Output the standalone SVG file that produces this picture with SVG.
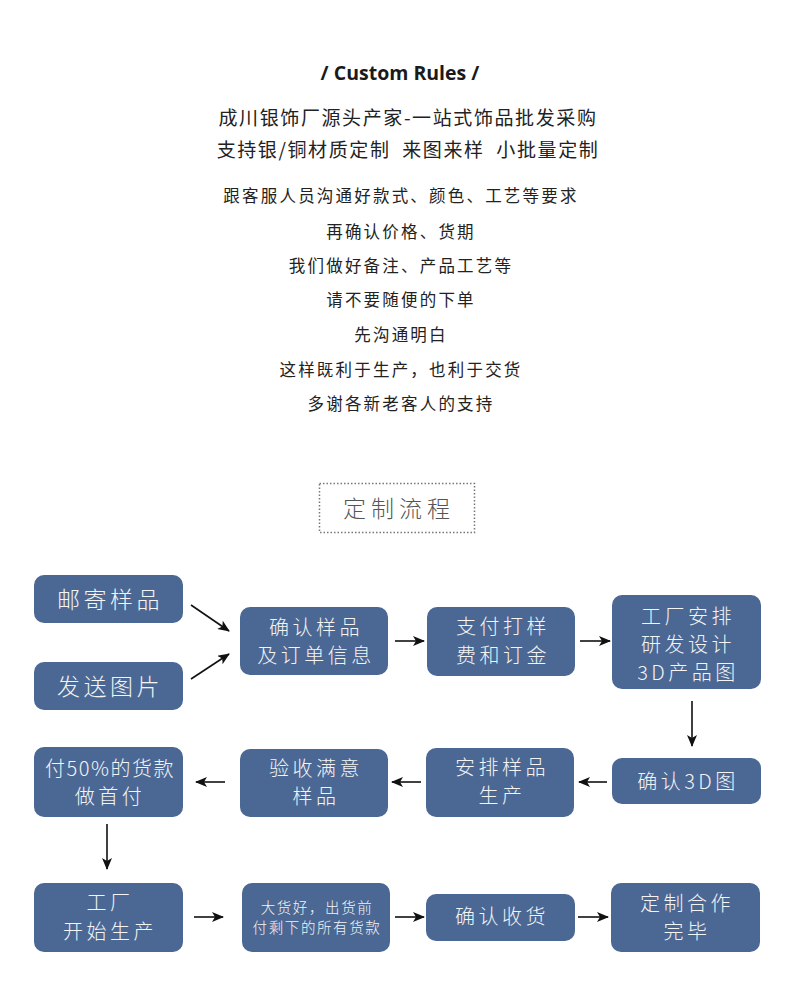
<svg xmlns="http://www.w3.org/2000/svg" width="790" height="984" viewBox="0 0 790 984">
<defs>
<marker id="ah" viewBox="0 0 12 10" refX="11" refY="5" markerWidth="12" markerHeight="10" markerUnits="userSpaceOnUse" orient="auto">
<path d="M0,0 L12,5 L0,10 L3,5 Z" fill="#111"/>
</marker>
<style>
.hd{font-family:"Open Sans","Liberation Sans",sans-serif;font-weight:bold;font-size:19.5px;fill:#1a1a1a}
.t1{font-family:"Noto Sans CJK SC","Noto Sans",sans-serif;font-size:19px;fill:#222;letter-spacing:1.6px}
.t2{font-family:"Noto Sans CJK SC","Noto Sans",sans-serif;font-size:16.5px;fill:#222;letter-spacing:2.2px}
.ttl{font-family:"Noto Sans CJK SC",sans-serif;font-weight:300;font-size:23px;fill:#555;letter-spacing:5px}
.box{fill:#4b6895}
.nt{font-family:"Noto Sans CJK SC","Noto Sans",sans-serif;font-weight:300;fill:#f4f4f4;text-anchor:middle}
.big{font-size:23px;letter-spacing:3.5px}
.mid{font-size:20px;letter-spacing:3.5px}
.sm{font-size:14.5px;letter-spacing:1.6px}
.cn{stroke:#111;stroke-width:1.6;fill:none;marker-end:url(#ah)}
</style>
</defs>
<rect width="790" height="984" fill="#ffffff"/>
<g id="header" text-anchor="middle">
<text class="hd" x="400" y="80">/ Custom Rules /</text>
<text class="t1" x="408" y="125">成川银饰厂源头产家-一站式饰品批发采购</text>
<text class="t1" x="408" y="157" xml:space="preserve">支持银/铜材质定制  来图来样  小批量定制</text>
<text class="t2" x="401" y="202">跟客服人员沟通好款式、颜色、工艺等要求</text>
<text class="t2" x="401" y="238">再确认价格、货期</text>
<text class="t2" x="401" y="272">我们做好备注、产品工艺等</text>
<text class="t2" x="401" y="306">请不要随便的下单</text>
<text class="t2" x="401" y="341">先沟通明白</text>
<text class="t2" x="401" y="376">这样既利于生产，也利于交货</text>
<text class="t2" x="401" y="410">多谢各新老客人的支持</text>
</g>
<g id="title">
<rect x="319.5" y="483.5" width="155" height="49" fill="none" stroke="#777" stroke-width="1.5" stroke-dasharray="1.5,2"/>
<text class="ttl" x="399" y="517" text-anchor="middle">定制流程</text>
</g>
<g id="connectors">
<line class="cn" x1="191" y1="605" x2="229" y2="631"/>
<line class="cn" x1="191" y1="679" x2="229" y2="654"/>
<line class="cn" x1="395" y1="641" x2="424" y2="641"/>
<line class="cn" x1="580" y1="641" x2="610" y2="641"/>
<line class="cn" x1="692" y1="701" x2="692" y2="746"/>
<line class="cn" x1="607" y1="782" x2="579" y2="782"/>
<line class="cn" x1="421" y1="782" x2="392" y2="782"/>
<line class="cn" x1="225" y1="782" x2="196" y2="782"/>
<line class="cn" x1="107" y1="824" x2="107" y2="869"/>
<line class="cn" x1="194" y1="917" x2="223" y2="917"/>
<line class="cn" x1="395" y1="917" x2="424" y2="917"/>
<line class="cn" x1="578" y1="917" x2="608" y2="917"/>
</g>
<g id="n-mail">
<rect class="box" x="34" y="575" width="149" height="48" rx="10"/>
<text class="nt big" x="110" y="608">邮寄样品</text>
</g>
<g id="n-photo">
<rect class="box" x="34" y="662" width="149" height="48" rx="10"/>
<text class="nt big" x="110" y="695">发送图片</text>
</g>
<g id="n-confirm">
<rect class="box" x="240" y="607" width="148" height="68" rx="10"/>
<text class="nt mid" x="316" y="635">确认样品</text>
<text class="nt mid" x="316" y="663">及订单信息</text>
</g>
<g id="n-pay">
<rect class="box" x="427" y="607" width="148" height="69" rx="10"/>
<text class="nt mid" x="503" y="634">支付打样</text>
<text class="nt mid" x="503" y="663">费和订金</text>
</g>
<g id="n-design">
<rect class="box" x="612" y="595" width="149" height="94" rx="10"/>
<text class="nt mid" x="688" y="624">工厂安排</text>
<text class="nt mid" x="688" y="652">研发设计</text>
<text class="nt mid" x="688" y="680">3D产品图</text>
</g>
<g id="n-3d">
<rect class="box" x="612" y="758" width="149" height="46" rx="10"/>
<text class="nt mid" x="688" y="789">确认3D图</text>
</g>
<g id="n-sample">
<rect class="box" x="426" y="748" width="148" height="69" rx="10"/>
<text class="nt mid" x="502" y="775">安排样品</text>
<text class="nt mid" x="502" y="803">生产</text>
</g>
<g id="n-check">
<rect class="box" x="240" y="749" width="148" height="68" rx="10"/>
<text class="nt mid" x="316" y="776">验收满意</text>
<text class="nt mid" x="316" y="804">样品</text>
</g>
<g id="n-deposit">
<rect class="box" x="34" y="747" width="149" height="70" rx="10"/>
<text class="nt mid" x="110" y="776" style="letter-spacing:1.5px">付50%的货款</text>
<text class="nt mid" x="110" y="804">做首付</text>
</g>
<g id="n-produce">
<rect class="box" x="34" y="883" width="149" height="69" rx="10"/>
<text class="nt mid" x="110" y="910">工厂</text>
<text class="nt mid" x="110" y="939">开始生产</text>
</g>
<g id="n-balance">
<rect class="box" x="242" y="883" width="148" height="69" rx="10"/>
<text class="nt sm" x="317" y="913">大货好，出货前</text>
<text class="nt sm" x="317" y="933">付剩下的所有货款</text>
</g>
<g id="n-receive">
<rect class="box" x="426" y="894" width="149" height="47" rx="10"/>
<text class="nt mid" x="502" y="924">确认收货</text>
</g>
<g id="n-done">
<rect class="box" x="611" y="883" width="149" height="69" rx="10"/>
<text class="nt mid" x="687" y="911">定制合作</text>
<text class="nt mid" x="687" y="939">完毕</text>
</g>
</svg>
